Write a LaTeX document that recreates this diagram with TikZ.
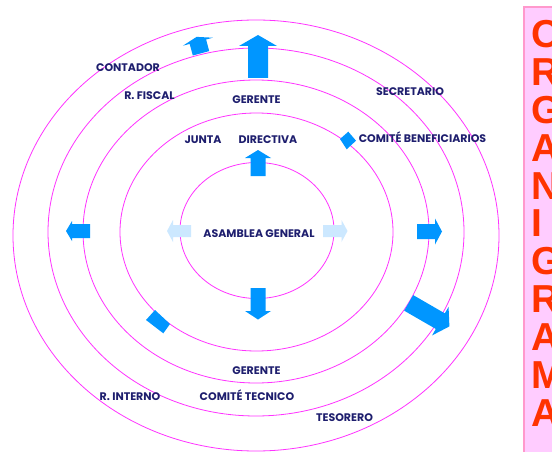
\documentclass[tikz,border=0pt]{standalone}
\usepackage{fontspec}
\setmainfont{Poppins}
\newfontfamily\titlefont{Liberation Sans}
\definecolor{ringc}{RGB}{255,51,255}
\definecolor{navy}{RGB}{30,30,110}
\definecolor{arrowblue}{RGB}{0,150,255}
\definecolor{lightblue}{RGB}{204,232,255}
\definecolor{panelfill}{RGB}{255,204,255}
\definecolor{paneldraw}{RGB}{255,153,204}
\definecolor{titlered}{RGB}{255,51,0}
\newcommand\drawarrow[8]{\fill[#1,shift={(#2,#3)},rotate=#4] (0,-#6/2) -- (#5,-#6/2) -- (#5,-#8/2) -- ({#5+#7},0) -- (#5,#8/2) -- (#5,#6/2) -- (0,#6/2) -- cycle;}
\tikzset{
  ring/.style={draw=ringc,line width=0.8pt},
  lab/.style={inner sep=0pt,text=navy,font=\fontsize{11}{12}\selectfont\bfseries},
  letter/.style={inner sep=0pt,anchor=west,text=titlered,font=\titlefont\fontsize{39}{40}\selectfont\bfseries}
}
\begin{document}
\begin{tikzpicture}[x=1pt,y=-1pt]
\clip (0,0) rectangle (552,452);
\fill[white] (0,0) rectangle (552,452);
% rings
\draw[ring] (257,230.5) ellipse [x radius=77, y radius=68];
\draw[ring] (256.5,232) ellipse [x radius=136.5, y radius=119];
\draw[ring] (256,231.5) ellipse [x radius=173, y radius=151.5];
\draw[ring] (256,232) ellipse [x radius=208, y radius=184];
\draw[ring] (256,235.5) ellipse [x radius=243, y radius=215.5];
% arrows
\drawarrow{arrowblue}{258}{78}{90}{32}{20}{11}{38}
\drawarrow{arrowblue}{258}{176}{90}{18}{15}{8}{26}
\drawarrow{arrowblue}{258}{288}{-90}{23}{15}{8.5}{26}
\drawarrow{arrowblue}{90}{231}{180}{18}{14}{6}{20}
\drawarrow{arrowblue}{417}{231.5}{0}{18}{15}{7}{26}
\drawarrow{lightblue}{191}{231}{180}{18}{12}{6}{22}
\drawarrow{lightblue}{323}{231}{0}{18.5}{12}{6}{22}
\drawarrow{arrowblue}{408.7}{302.9}{-30}{36.5}{18}{10.5}{33}
\drawarrow{arrowblue}{201}{53.3}{105}{12}{17}{5}{31}
\fill[arrowblue] (348.3,131.7) -- (356,140.7) -- (346.7,149.3) -- (340,139) -- cycle;
\fill[arrowblue] (155,310) -- (170,324) -- (163.3,333.3) -- (146,320) -- cycle;
% labels
\node[lab] (contador) at (128,68) {CONTADOR};
\node[lab] (fiscal) at (149.5,96) {R. FISCAL};
\node[lab] (gerente1) at (256.5,100) {GERENTE};
\node[lab] (secretario) at (410,92) {SECRETARIO};
\node[lab] (junta) at (203,139.5) {JUNTA};
\node[lab] (directiva) at (268,139.5) {DIRECTIVA};
\node[lab] (comiteb) at (422.5,137) {COMITÉ BENEFICIARIOS};
\node[lab] (asamblea) at (259,234) {ASAMBLEA GENERAL};
\node[lab] (gerente2) at (256.5,370.5) {GERENTE};
\node[lab] (comitet) at (247,395) {COMITÉ TECNICO};
\node[lab] (interno) at (130,397) {R. INTERNO};
\node[lab] (tesorero) at (344.5,417.3) {TESORERO};
% title panel
\filldraw[fill=panelfill,draw=paneldraw,line width=1.5pt] (524,7) rectangle (570,470);
\foreach \ch [count=\i from 0] in {O,R,G,A,N,I,G,R,A,M,A}{
  \node[letter] (t\i) at (531.5,{34+37.9*\i}) {\ch};
}
\end{tikzpicture}
\end{document}
